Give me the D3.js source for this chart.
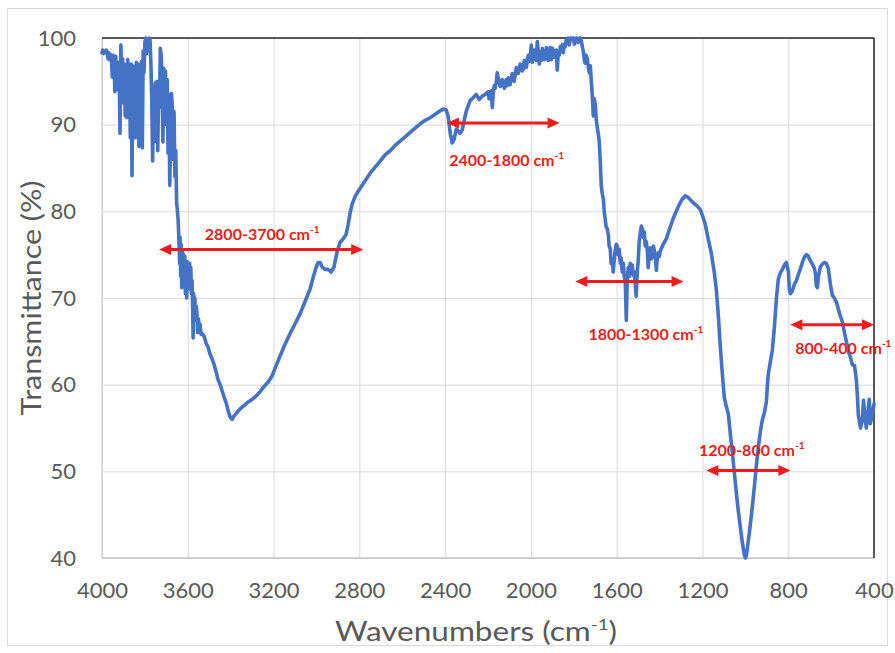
<!DOCTYPE html>
<html><head><meta charset="utf-8">
<script src="https://cdn.jsdelivr.net/npm/d3@7"></script>
<style>body{margin:0;background:#fff;} svg{display:block;}</style>
</head><body>
<svg id="chart" width="895" height="653"></svg>
<script>
// ---- data ----
const wavenumbers = [
 // 4000-3648
 4000,3996,3992,3988,3984,3980,3976,3972,3968,3964,
 3960,3956,3952,3948,3944,3940,3936,3932,3928,3924,
 3920,3916,3912,3908,3904,3900,3896,3892,3888,3884,
 3880,3876,3872,3868,3864,3860,3856,3852,3848,3844,
 3840,3836,3832,3828,3824,3820,3816,3812,3808,3804,
 3800,3796,3792,3788,3784,3780,3776,3772,3768,3764,
 3760,3756,3752,3748,3744,3740,3736,3732,3728,3724,
 3720,3716,3712,3708,3704,3700,3696,3692,3688,3684,
 3680,3676,3672,3668,3664,3660,3656,3652,3648,
 // 3645-3538
 3645,3641,3638,3636,3633,3631,3628,3625,3622,3619,
 3617,3614,3611,3608,3605,3603,3600,3597,3594,3591,
 3589,3586,3583,3580,3577,3575,3573,3570,3567,3564,
 3560,3557,3554,3550,3546,3543,3538,
 // 3533-2213
 3533,3524,3515,3505,3496,3487,3477,3468,3459,3449,
 3440,3431,3421,3412,3403,3393,3384,3370,3356,3337,
 3319,3300,3281,3263,3244,3225,3207,3188,3170,3146,
 3123,3100,3076,3053,3030,3016,3002,2992,2983,2974,
 2960,2946,2932,2918,2904,2890,2876,2862,2852,2843,
 2834,2820,2806,2787,2768,2750,2726,2703,2680,2656,
 2633,2610,2586,2563,2540,2516,2493,2470,2446,2423,
 2409,2395,2386,2376,2367,2358,2348,2339,2330,2320,
 2311,2302,2292,2283,2269,2255,2241,2227,2213,
 // 2199-1616
 2199,2195,2190,2185,2180,2176,2171,2166,2161,2157,
 2152,2148,2143,2138,2134,2129,2124,2120,2115,2110,
 2106,2101,2097,2092,2087,2082,2078,2073,2068,2064,
 2059,2054,2050,2045,2040,2036,2031,2026,2021,2017,
 2012,2008,2003,1998,1993,1989,1984,1980,1975,1970,
 1966,1961,1956,1952,1947,1942,1937,1933,1928,1924,
 1919,1914,1910,1905,1900,1896,1891,1886,1882,1877,
 1872,1868,1863,1858,1854,1849,1844,1840,1835,1830,
 1826,1821,1816,1812,1807,1802,1797,1793,1788,1784,
 1779,1774,1770,1765,1760,1756,1751,1747,1742,1737,
 1733,1728,1723,1719,1714,1709,1705,1700,1695,1691,
 1686,1681,1676,1672,1667,1662,1658,1653,1649,1644,
 1639,1635,1630,1626,1621,1616,
 // 1612-1383
 1612,1607,1602,1597,1593,1588,1583,1579,1574,1569,
 1565,1560,1555,1551,1546,1541,1537,1532,1527,1523,
 1518,1513,1509,1504,1499,1495,1490,1485,1481,1476,
 1471,1467,1462,1457,1453,1448,1443,1439,1434,1429,
 1425,1420,1415,1411,1406,1401,1397,1390,1383,
 // 1369-400
 1369,1350,1336,1322,1308,1294,1280,1266,1252,1238,
 1224,1210,1201,1187,1173,1159,1145,1135,1126,1117,
 1107,1098,1089,1079,1070,1061,1051,1042,1033,1023,
 1014,1005,1000,995,986,977,967,958,949,939,
 930,921,911,902,897,893,883,874,865,855,
 846,837,827,818,809,799,795,790,781,771,
 762,753,743,734,725,715,706,697,687,678,
 673,669,664,659,650,641,631,622,613,603,
 594,585,575,566,557,547,538,529,519,510,
 501,491,482,477,473,463,454,449,445,436,
 426,422,417,408,400
];
const transmittance = [
 // 4000-3648
 98.3,98.6,98.2,98.5,98.3,98.6,98.4,97.6,98.3,97.5,
 98.1,97.8,95.5,98.0,97.2,93.8,97.9,96.0,97.2,94.0,
 96.5,89.0,99.2,95.0,97.6,92.5,97.0,91.0,96.8,90.8,
 97.5,93.5,96.5,88.5,97.0,84.1,96.8,91.5,96.0,88.5,
 97.2,90.0,97.0,87.5,96.5,89.5,97.3,87.3,98.5,96.0,
 99.5,100,98.2,99.6,99.0,100,99.8,97.0,93.0,85.8,
 93.5,88.0,94.8,91.0,95.0,87.0,94.0,92.0,98.8,98.0,
 95.0,88.0,96.5,92.0,96.2,90.0,95.2,86.7,93.5,83.0,
 89.5,93.6,92.0,86.0,91.5,84.0,87.0,81.0,80.0,
 // 3645-3538
 79.0,76.5,74.0,77.0,72.5,76.2,71.2,75.5,72.0,75.0,
 73.0,74.8,70.5,73.8,70.0,74.2,71.5,73.8,72.5,74.0,
 71.0,73.5,70.5,72.0,68.5,65.4,70.5,68.5,70.0,67.5,
 69.0,68.0,66.0,67.6,66.3,67.0,65.8,
 // 3533-2213
 65.9,65.6,64.8,64.3,63.5,63.0,62.3,61.5,60.6,60.0,
 59.3,58.6,57.9,57.0,56.3,56.0,56.4,56.8,57.2,57.6,
 58.0,58.3,58.7,59.2,59.8,60.3,61.0,62.2,63.3,64.7,
 65.9,67.0,68.2,69.6,71.0,72.3,73.5,74.1,74.1,73.6,
 73.3,73.3,73.0,73.6,75.3,76.4,76.8,77.3,78.5,79.8,
 80.8,81.7,82.3,83.0,83.7,84.4,85.1,85.8,86.5,87.0,
 87.6,88.1,88.6,89.1,89.6,90.1,90.5,90.8,91.2,91.6,
 91.8,91.7,91.0,89.0,87.9,88.3,89.5,89.3,89.0,89.4,
 90.5,91.5,92.2,92.8,93.1,93.5,92.9,93.3,93.5,
 // 2199-1616
 93.8,93.0,93.4,93.9,92.0,93.5,94.5,94.2,95.0,96.0,
 95.3,95.0,94.4,94.6,95.2,94.9,94.2,94.4,95.2,94.5,
 95.4,94.9,94.6,95.3,95.9,95.5,95.0,95.8,96.6,96.3,
 95.9,96.5,97.0,96.9,96.2,96.4,97.4,97.2,96.6,97.5,
 98.0,97.3,98.0,99.2,97.2,97.8,98.6,98.2,97.4,99.6,
 98.4,97.0,98.4,97.4,98.8,98.3,97.5,97.6,98.9,98.1,
 97.4,98.4,98.9,97.5,98.8,98.5,97.8,98.0,98.6,96.3,
 98.4,98.0,99.0,98.7,99.2,98.3,99.3,99.0,99.8,99.4,
 100,99.2,100,99.8,100,100,99.3,99.6,100,100,
 99.5,99.8,100,99.7,99.0,98.5,97.5,97.1,98.0,97.6,
 96.8,96.0,96.8,95.3,93.5,91.0,93.0,92.4,90.5,89.8,
 89.0,88.0,85.5,83.0,82.0,81.4,80.0,79.0,78.2,78.0,
 77.3,76.0,75.7,74.0,74.5,73.0,
 // 1612-1383
 74.2,75.5,76.2,76.0,75.0,75.6,74.0,74.6,73.0,74.0,
 72.5,72.0,67.4,72.0,73.5,72.5,74.0,73.2,73.8,72.6,
 73.0,71.5,70.2,73.0,74.5,76.5,77.5,78.3,78.0,77.0,
 77.6,76.0,76.5,75.5,73.5,75.0,75.8,74.5,75.0,76.0,
 75.6,74.6,73.2,74.5,75.2,74.8,75.4,75.8,76.2,
 // 1369-400
 76.8,78.2,79.2,80.0,80.8,81.4,81.8,81.6,81.2,80.9,
 80.6,80.2,79.6,78.5,76.8,75.2,73.0,70.9,68.0,64.5,
 61.2,58.5,57.5,56.6,54.3,52.3,49.8,47.5,45.5,43.5,
 41.8,40.4,40.0,40.3,42.0,43.8,46.0,48.2,50.6,52.8,
 54.6,55.9,56.8,58.0,60.0,61.2,62.7,64.0,66.5,70.0,
 72.2,72.9,73.3,73.8,74.1,73.0,71.0,70.5,70.8,71.6,
 72.0,72.7,73.4,74.1,74.7,75.0,74.8,74.3,73.9,73.4,
 72.8,71.4,71.2,72.5,73.6,73.9,74.1,74.0,73.4,71.5,
 70.3,70.0,69.5,68.7,67.9,67.2,66.0,65.0,63.8,63.2,
 62.3,62.2,60.5,58.5,56.5,55.0,56.0,58.2,57.0,55.0,
 57.5,58.3,55.5,56.5,57.8
];
const xTicks = [4000,3600,3200,2800,2400,2000,1600,1200,800,400];
const yTicks = [40,50,60,70,80,90,100];

// annotation ranges (wavenumber from / to, transmittance level) and label anchors
const annoLabels = ["2800-3700", "2400-1800", "1800-1300", "1200-800", "800-400"];
const annoFrom   = [3734, 2392, 1793, 1182, 790];
const annoTo     = [2782, 1866, 1288, 790, 400];
const annoLevel  = [75.6, 90.2, 71.9, 50.1, 66.9];
const labelWn    = [3253, 2113, 1464, 970, 543];
const labelT     = [76.7, 85.2, 65.2, 51.8, 63.5];

// ---- drawing ----
const W = 895, H = 653;
const plot = {left: 102, right: 874, top: 38, bottom: 558};
const FONT = "Lato, 'Open Sans', sans-serif";
const svg = d3.select("#chart");

const x = d3.scaleLinear().domain([4000, 400]).range([plot.left, plot.right]);
const y = d3.scaleLinear().domain([40, 100]).range([plot.bottom, plot.top]);

svg.append("rect").attr("width", W).attr("height", H).attr("fill", "#fff");
svg.append("rect").attr("x", 7.5).attr("y", 8.5).attr("width", 880).attr("height", 637)
  .attr("fill", "none").attr("stroke", "#d9d9d9");

// y axis with gridlines
const yAxis = svg.append("g").attr("transform", `translate(${plot.left},0)`)
  .call(d3.axisLeft(y).tickValues(yTicks).tickSize(-(plot.right - plot.left)).tickPadding(26).tickFormat(d3.format("d")));
yAxis.select(".domain").remove();
yAxis.selectAll("line").attr("stroke", "#d9d9d9").attr("stroke-width", 1);
yAxis.selectAll("text").attr("fill", "#595959").attr("font-family", FONT).attr("font-size", 22).attr("dy", "0.33em");

// x axis with gridlines
const xAxis = svg.append("g").attr("transform", `translate(0,${plot.bottom})`)
  .call(d3.axisBottom(x).tickValues(xTicks).tickSize(-(plot.bottom - plot.top)).tickPadding(24).tickFormat(d3.format("d")));
xAxis.select(".domain").remove();
xAxis.selectAll("line").attr("stroke", "#d9d9d9").attr("stroke-width", 1);
xAxis.selectAll("text").attr("fill", "#595959").attr("font-family", FONT).attr("font-size", 22);

// axis lines
svg.append("line").attr("x1", plot.left).attr("x2", plot.right).attr("y1", plot.bottom).attr("y2", plot.bottom)
  .attr("stroke", "#c4c4c4").attr("stroke-width", 1.3);
svg.append("line").attr("x1", plot.left).attr("x2", plot.left).attr("y1", plot.top).attr("y2", plot.bottom)
  .attr("stroke", "#d0d0d0").attr("stroke-width", 1.3);
// top / right dark borders
svg.append("line").attr("x1", plot.left).attr("x2", plot.right).attr("y1", plot.top).attr("y2", plot.top)
  .attr("stroke", "#262626").attr("stroke-width", 1.5);
svg.append("line").attr("x1", plot.right).attr("x2", plot.right).attr("y1", plot.top).attr("y2", plot.bottom)
  .attr("stroke", "#262626").attr("stroke-width", 1.5);

// spectrum
const n = Math.min(wavenumbers.length, transmittance.length);
const pts = d3.range(n).map(i => [wavenumbers[i], transmittance[i]]);
svg.append("path").datum(pts)
  .attr("d", d3.line().x(d => x(d[0])).y(d => y(d[1])))
  .attr("fill", "none").attr("stroke", "#4472C4").attr("stroke-width", 3.6)
  .attr("stroke-linejoin", "round").attr("stroke-linecap", "round");

// axis titles
const xt = svg.append("text").attr("x", 476).attr("y", 641).attr("text-anchor", "middle")
  .attr("font-family", FONT).attr("font-size", 27).attr("fill", "#595959")
  .attr("textLength", 282).attr("lengthAdjust", "spacingAndGlyphs");
xt.append("tspan").text("Wavenumbers (cm");
xt.append("tspan").attr("font-size", 16).attr("dy", -11).text("-1");
xt.append("tspan").attr("dy", 11).text(")");

svg.append("text").attr("transform", "translate(41,298) rotate(-90)").attr("text-anchor", "middle")
  .attr("font-family", FONT).attr("font-size", 27).attr("fill", "#595959")
  .attr("textLength", 235).attr("lengthAdjust", "spacingAndGlyphs")
  .text("Transmittance (%)");

// annotations
const RED = "#ee1c1c";
const aG = svg.append("g");
annoLabels.forEach((lab, i) => {
  const x1 = x(annoFrom[i]), x2 = x(annoTo[i]), yy = y(annoLevel[i]);
  const hl = 12, hw = 5.5;
  aG.append("line").attr("x1", x1 + hl - 1).attr("x2", x2 - hl + 1).attr("y1", yy).attr("y2", yy)
    .attr("stroke", RED).attr("stroke-width", 3);
  aG.append("path").attr("d", `M${x1},${yy}L${x1 + hl},${yy - hw}L${x1 + hl},${yy + hw}Z`).attr("fill", RED);
  aG.append("path").attr("d", `M${x2},${yy}L${x2 - hl},${yy - hw}L${x2 - hl},${yy + hw}Z`).attr("fill", RED);
  const t = aG.append("text").attr("x", x(labelWn[i])).attr("y", y(labelT[i])).attr("text-anchor", "middle")
    .attr("font-family", FONT).attr("font-weight", "bold").attr("font-size", 16).attr("fill", RED);
  t.append("tspan").text(lab + " cm");
  t.append("tspan").attr("font-size", 10).attr("dy", -7).text("-1");
});
</script>
</body></html>
